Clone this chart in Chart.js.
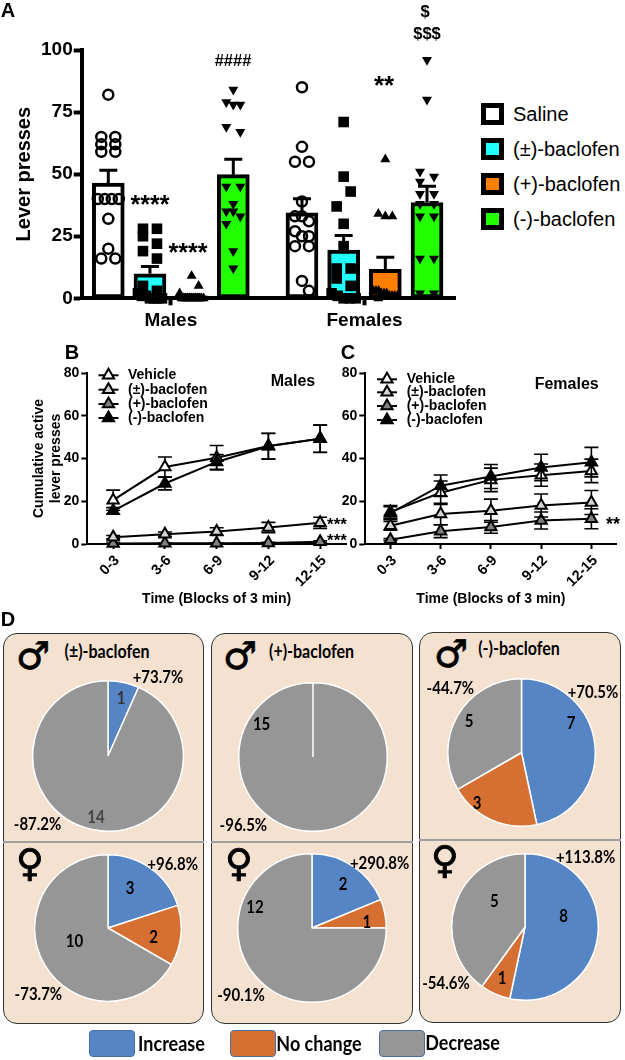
<!DOCTYPE html>
<html>
<head>
<meta charset="utf-8">
<title>Lever presses</title>
<script src="https://cdn.jsdelivr.net/npm/chart.js@4/dist/chart.umd.min.js"></script>
<style>
  html, body { margin: 0; padding: 0; background: #fff; overflow: hidden; }
  #page { position: relative; width: 625px; height: 1060px; overflow: hidden; }
  canvas { position: absolute; }
  .t { position: absolute; white-space: nowrap; font-family: "Liberation Sans", Arial, sans-serif; transform: translate(-50%, -50%); }
  .d { font-family: Lato, sans-serif; font-weight: 700; transform: translate(-50%, -50%) scale(1, 1.15); color: #000; }
  .box { position: absolute; box-sizing: border-box; }
</style>
</head>
<body>
<div id="page"></div>
<script>
const page = document.getElementById("page");
const sans = "'Liberation Sans', Arial, sans-serif";

// panel A
const groups = ["Males", "Females"];
const treatments = ["Saline", "(±)-baclofen", "(+)-baclofen", "(-)-baclofen"];
const barMeans = [46.4, 9.9, 1.0, 49.8, 34.4, 19.4, 11.7, 38.6];
const barErrors = [5.2, 2.9, 0.4, 6.2, 5.7, 5.9, 4.8, 6.5];
const salineMales = [82, 65, 65, 62, 62, 59, 59, 40, 40, 40, 40, 32, 20, 16, 16];
const racemicMales = [28, 28, 25, 22, 19, 16, 5, 3, 2, 1, 1, 0, 0, 0, 0];
const plusMales = [9, 5, 2, 0, 0, 0, 0, 0, 0, 0, 0, 0, 0, 0, 0];
const minusMales = [84, 79, 78, 78, 69, 67, 45, 45, 38, 35, 35, 33, 30, 19, 12];
const salineFemales = [85, 61, 55, 55, 39, 33, 33, 31, 27, 25, 25, 21, 21, 7, 3];
const racemicFemales = [71, 49, 43, 37, 30, 21, 12, 12, 8, 5, 2, 1, 0, 0, 0];
const plusFemales = [56, 34, 33, 33, 3, 3, 3, 2, 2, 2, 1, 1, 1, 1, 0];
const minusFemales = [96, 80, 51, 49, 47, 42, 42, 38, 38, 33, 33, 16, 16, 2, 2];
const pointSeries = [salineMales, racemicMales, plusMales, minusMales, salineFemales, racemicFemales, plusFemales, minusFemales];

// panels B and C
const blocks = ["0-3", "3-6", "6-9", "9-12", "12-15"];
const lineNames = ["Vehicle", "(±)-baclofen", "(+)-baclofen", "(-)-baclofen"];
const malesVehicle = [20.5, 36, 40.4, 45.8, 49.2];
const malesVehicleErr = [4.7, 4.7, 5.7, 6, 6.4];
const malesRacemic = [3.2, 4.6, 5.8, 7.7, 9.9];
const malesRacemicErr = [0.8, 1, 1.8, 2.4, 2.6];
const malesPlus = [0.2, 0.3, 0.3, 0.5, 1.1];
const malesPlusErr = [0.2, 0.2, 0.2, 0.3, 0.4];
const malesMinus = [15.5, 28.3, 38.4, 45.7, 49.3];
const malesMinusErr = [1.5, 3, 3.4, 6, 6.4];
const femalesVehicle = [15, 24, 30, 32.2, 34.2];
const femalesVehicleErr = [3, 5.5, 5.5, 5.2, 5.5];
const femalesRacemic = [8.5, 14, 15.6, 18, 19.4];
const femalesRacemicErr = [2, 5, 5.4, 5.4, 5.6];
const femalesPlus = [2, 6, 8, 11, 11.8];
const femalesPlusErr = [0.5, 3, 3, 4, 4.7];
const femalesMinus = [14.4, 27.3, 31.6, 35.8, 38.3];
const femalesMinusErr = [3, 5, 5.6, 6.2, 6.9];

// panel D: increase, no change, decrease (slice sizes as drawn, the printed counts differ in two pies)
const pieNames = ["Increase", "No change", "Decrease"];
const pieColors = ["#5585c5", "#d66f32", "#969696"];
const racemicMalePie = [1, 0, 14];
const racemicFemalePie = [3, 2, 10];
const plusMalePie = [0, 0, 15];
const plusFemalePie = [3, 1, 12];
const minusMalePie = [7, 3, 5];
const minusFemalePie = [8, 1, 6];

function addCanvas(x, y, w, h) {
  const c = document.createElement("canvas");
  c.width = w;
  c.height = h;
  c.style.left = x + "px";
  c.style.top = y + "px";
  c.style.width = w + "px";
  c.style.height = h + "px";
  page.appendChild(c);
  return c;
}

function text(str, x, y, style, cls) {
  const el = document.createElement("div");
  el.className = "t " + (cls || "");
  el.textContent = str;
  el.style.left = x + "px";
  el.style.top = y + "px";
  el.style.cssText += style || "";
  page.appendChild(el);
}

// whiskers, drawn under the markers of the dataset
const errorBars = {
  id: "errorBars",
  beforeDatasetDraw(chart, args) {
    const ds = chart.data.datasets[args.index];
    if (!ds.errors) return;
    const yScale = chart.scales.y;
    const ctx = chart.ctx;
    const meta = chart.getDatasetMeta(args.index);
    ctx.save();
    ctx.strokeStyle = "#000";
    ctx.lineWidth = ds.errorWidth;
    ds.errors.forEach((err, i) => {
      const v = chart.scales.y.getValueForPixel(meta.data[i].y);
      const x = meta.data[i].x;
      const top = yScale.getPixelForValue(v + err);
      const low = yScale.getPixelForValue(ds.errorBoth ? Math.max(v - err, 0) : v);
      ctx.beginPath();
      ctx.moveTo(x, low);
      ctx.lineTo(x, top);
      ctx.moveTo(x - ds.errorCap, top);
      ctx.lineTo(x + ds.errorCap, top);
      if (ds.errorBoth) {
        ctx.moveTo(x - ds.errorCap, low);
        ctx.lineTo(x + ds.errorCap, low);
      }
      ctx.stroke();
    });
    ctx.restore();
  },
};

// ---- panel A ----
const barUnit = 41.67;
const groupGap = 1.648;
const barPositions = barMeans.map((v, i) => (i < 4 ? i : i + groupGap - 1));
const groupTicks = [1.5, 6.148];

// spreads points sideways the way Prism does: ties side by side, near neighbours zigzag
function swarm(values, center) {
  const pts = [];
  let i = 0;
  let last = 0;
  while (i < values.length) {
    let j = i;
    while (j < values.length && values[i] - values[j] <= 2) j++;
    const n = j - i;
    const step = n === 2 ? 14 : Math.min(7, 24 / (n - 1 || 1));
    for (let k = 0; k < n; k++) {
      let off = (k - (n - 1) / 2) * step;
      if (n === 1) {
        const near = i > 0 && values[i - 1] - values[i] <= 6;
        off = near ? (last > 0 ? -7 : 7) : 0;
      }
      last = off;
      pts.push({ x: center + off / barUnit, y: values[i + k] });
    }
    i = j;
  }
  return pts;
}

const barColors = ["#fff", "#22ffff", "#ff8000", "#22ff00", "#fff", "#22ffff", "#ff8000", "#22ff00"];
const shapes = [
  { pointStyle: "circle", pointRadius: 5, pointBackgroundColor: "rgba(0,0,0,0)", pointBorderColor: "#000", pointBorderWidth: 2.5 },
  { pointStyle: "rect", pointRadius: 7.5, pointBackgroundColor: "#000", pointBorderWidth: 0 },
  { pointStyle: "triangle", pointRadius: 5.8, pointBackgroundColor: "#000", pointBorderWidth: 0 },
  { pointStyle: "triangle", pointRotation: 180, pointRadius: 5.8, pointBackgroundColor: "#000", pointBorderWidth: 0 },
];

const panelA = [
  {
    type: "bar",
    data: barMeans.map((v, i) => ({ x: barPositions[i], y: v })),
    backgroundColor: barColors,
    borderColor: "#000",
    borderWidth: 4,
    borderSkipped: false,
    barThickness: 32,
    order: 2,
    errors: barErrors,
    errorWidth: 3,
    errorCap: 9,
  },
];
pointSeries.forEach((vals, i) => {
  panelA.push(Object.assign({ type: "scatter", data: swarm(vals, barPositions[i]), order: 1, clip: false }, shapes[i % 4]));
});

new Chart(addCanvas(0, 0, 470, 340), {
  type: "bar",
  data: { datasets: panelA },
  plugins: [errorBars],
  options: {
    responsive: false,
    animation: false,
    layout: { padding: { top: 50, right: 15, left: 0, bottom: 0 } },
    plugins: { legend: { display: false }, tooltip: { enabled: false } },
    scales: {
      x: {
        type: "linear",
        offset: false,
        min: -0.638,
        max: 8.32,
        grid: { offset: false, drawOnChartArea: false, tickLength: 7, tickWidth: 4, tickColor: "#000" },
        border: { width: 4, color: "#000" },
        afterBuildTicks(axis) {
          axis.ticks = groupTicks.map((v) => ({ value: v }));
        },
        afterFit(s) {
          s.height = 41.7;
        },
        ticks: {
          autoSkip: false,
          maxRotation: 0,
          padding: 4,
          color: "#000",
          font: { family: sans, size: 19, weight: "bold" },
          callback: (v) => groups[groupTicks.indexOf(v)],
        },
      },
      y: {
        min: 0,
        max: 100,
        grid: { drawOnChartArea: false, tickLength: 8, tickWidth: 4, tickColor: "#000" },
        border: { width: 4, color: "#000" },
        afterFit(s) {
          s.width = 81.7;
        },
        ticks: {
          stepSize: 25,
          padding: 1,
          color: "#000",
          font: { family: sans, size: 19, weight: "bold" },
        },
        title: {
          display: true,
          text: "Lever presses",
          color: "#000",
          font: { family: sans, size: 20, weight: "bold" },
          padding: { top: 12, bottom: 0 },
        },
      },
    },
  },
});

// legend of A
treatments.forEach((name, i) => {
  const y = [113.5, 149, 184, 218.5][i];
  const s = document.createElement("div");
  s.className = "box";
  s.style.cssText = "left:481px;top:" + (y - 11) + "px;width:23px;height:22px;border:5px solid #000;background:" + barColors[i];
  page.appendChild(s);
  text(name, 513, y, "transform:translate(0,-50%);font-size:20px;color:#000");
});

text("A", 8, 10, "font-size:20px;font-weight:bold");
text("****", 150, 204, "font-size:25px;font-weight:bold");
text("****", 188, 252, "font-size:25px;font-weight:bold");
text("####", 233, 60, "font-size:16.5px;font-weight:bold");
text("**", 384, 85, "font-size:26px;font-weight:bold");
text("$", 425, 11, "font-size:16.5px;font-weight:bold");
text("$$$", 427, 33, "font-size:16.5px;font-weight:bold");

// ---- panels B and C ----
function lineLegend(iconX, textX, rows) {
  return {
    id: "lineLegend",
    afterDraw(chart) {
      const ctx = chart.ctx;
      const top = chart.canvas.offsetTop;
      const left = chart.canvas.offsetLeft;
      ctx.save();
      chart.data.datasets.forEach((ds, i) => {
        const y = rows[i] - top;
        ctx.strokeStyle = "#000";
        ctx.lineWidth = 2;
        ctx.beginPath();
        ctx.moveTo(iconX - 10 - left, y);
        ctx.lineTo(iconX + 10 - left, y);
        ctx.stroke();
        ctx.fillStyle = ds.pointBackgroundColor;
        Chart.helpers.drawPoint(ctx, { pointStyle: "triangle", radius: 6.5, rotation: 0, borderWidth: 2 }, iconX - left, y);
        ctx.fillStyle = "#000";
        ctx.font = "bold 14px " + sans;
        ctx.textBaseline = "middle";
        ctx.fillText(ds.label, textX - left, y);
      });
      ctx.restore();
    },
  };
}

const lineFills = ["#fff", "#d4d4d4", "#808080", "#000"];
const lineOrder = [2, 3, 4, 1];

function lineChart(canvas, series, errs, yWidth, padRight, withTitle, legendPlugin) {
  new Chart(canvas, {
    type: "line",
    data: {
      labels: blocks,
      datasets: series.map((vals, i) => ({
        label: lineNames[i],
        data: vals,
        borderColor: "#000",
        borderWidth: 2,
        tension: 0,
        fill: false,
        clip: false,
        order: lineOrder[i],
        pointStyle: "triangle",
        pointRadius: 6.5,
        pointBackgroundColor: lineFills[i],
        pointBorderColor: "#000",
        pointBorderWidth: 2,
        errors: errs[i],
        errorBoth: true,
        errorWidth: 1.6,
        errorCap: 7,
      })),
    },
    plugins: [errorBars, legendPlugin],
    options: {
      responsive: false,
      animation: false,
      layout: { padding: { top: 33, right: padRight, left: 0, bottom: 0 } },
      plugins: { legend: { display: false }, tooltip: { enabled: false } },
      scales: {
        x: {
          offset: true,
          grid: { offset: false, drawOnChartArea: false, tickLength: 5, tickWidth: 2, tickColor: "#000" },
          border: { width: 2, color: "#000" },
          afterFit(s) {
            s.height = 66;
          },
          ticks: {
            autoSkip: false,
            minRotation: 45,
            maxRotation: 45,
            padding: 3,
            labelOffset: 4,
            color: "#000",
            font: { family: sans, size: 14.5, weight: "bold" },
          },
          title: {
            display: true,
            text: "Time (Blocks of 3 min)",
            color: "#000",
            font: { family: sans, size: 14, weight: "bold" },
            padding: { top: 0, bottom: 2 },
          },
        },
        y: {
          min: 0,
          max: 80,
          grid: { drawOnChartArea: false, tickLength: 6, tickWidth: 2, tickColor: "#000" },
          border: { width: 2, color: "#000" },
          afterFit(s) {
            s.width = yWidth;
          },
          ticks: {
            stepSize: 20,
            padding: 2,
            color: "#000",
            font: { family: sans, size: 14, weight: "bold" },
          },
          title: {
            display: withTitle,
            text: ["Cumulative active", "lever presses"],
            color: "#000",
            font: { family: sans, size: 14, weight: "bold" },
            padding: { top: 31, bottom: 0 },
          },
        },
      },
    },
  });
}

lineChart(
  addCanvas(0, 340, 360, 270),
  [malesVehicle, malesRacemic, malesPlus, malesMinus],
  [malesVehicleErr, malesRacemicErr, malesPlusErr, malesMinusErr],
  87.3,
  14,
  true,
  lineLegend(108.5, 128, [375.3, 389.7, 404, 418])
);
lineChart(
  addCanvas(320, 340, 305, 270),
  [femalesVehicle, femalesRacemic, femalesPlus, femalesMinus],
  [femalesVehicleErr, femalesRacemicErr, femalesPlusErr, femalesMinusErr],
  45.3,
  3,
  false,
  lineLegend(387, 406.7, [379.3, 392.3, 406, 420])
);

text("B", 72, 352, "font-size:20px;font-weight:bold");
text("C", 348, 352, "font-size:20px;font-weight:bold");
text("Males", 293, 380.7, "font-size:16px;font-weight:bold");
text("Females", 566.7, 384, "font-size:16px;font-weight:bold");
text("***", 337, 525, "font-size:17px;font-weight:bold");
text("***", 337, 541, "font-size:17px;font-weight:bold");
text("**", 613, 524, "font-size:18px;font-weight:bold");

// ---- panel D ----
function panel(x, y, w, h, dividerY) {
  const p = document.createElement("div");
  p.className = "box";
  p.style.cssText = "left:" + x + "px;top:" + y + "px;width:" + w + "px;height:" + h + "px;background:#f4e1cf;border:1px solid #333;border-radius:14px";
  page.appendChild(p);
  const d = document.createElement("div");
  d.className = "box";
  d.style.cssText = "left:" + x + "px;top:" + dividerY + "px;width:" + w + "px;height:2px;background:#a0a0a0";
  page.appendChild(d);
}
panel(3, 633, 201, 391, 841);
panel(211, 633, 202, 391, 841);
panel(419, 632, 202, 391, 839);

function pie(values, cx, cy, r) {
  const size = Math.round(2 * r + 2);
  new Chart(addCanvas(cx - size / 2, cy - size / 2, size, size), {
    type: "pie",
    data: {
      labels: pieNames,
      datasets: [{ data: values, backgroundColor: pieColors, borderColor: "#fff", borderWidth: 1.5 }],
    },
    options: {
      responsive: false,
      animation: false,
      layout: { padding: 0 },
      plugins: { legend: { display: false }, tooltip: { enabled: false } },
    },
  });
}
pie(racemicMalePie, 108.4, 755.8, 75);
pie(racemicFemalePie, 108, 928, 73);
pie(plusMalePie, 313, 756.7, 74);
pie(plusFemalePie, 312, 928, 74);
pie(minusMalePie, 521, 752.5, 73.5);
pie(minusFemalePie, 525, 927, 73);

const big = "font-size:15px";
text("(±)-baclofen", 107, 650.7, "font-size:16px", "d");
text("(+)-baclofen", 311.5, 650.7, "font-size:16px", "d");
text("(-)-baclofen", 519, 648, "font-size:16px", "d");

const sym = "font-family:'DejaVu Sans';font-weight:bold;font-size:38px;color:#000;-webkit-text-stroke:0.8px #000";
text("♂", 33, 656, sym);
text("♂", 240, 656, sym);
text("♂", 451, 654, sym);
text("♀", 30, 863, sym);
text("♀", 239, 863, sym);
text("♀", 445, 860, sym);

text("+73.7%", 158, 676, big, "d");
text("-87.2%", 37.6, 822.7, big, "d");
text("1", 121, 697, big + ";color:#333", "d");
text("14", 96, 815.7, big + ";color:#444", "d");
text("+96.8%", 172.6, 862.7, big, "d");
text("3", 130, 886.7, big, "d");
text("2", 153.6, 935.7, big, "d");
text("10", 74.4, 940, big, "d");
text("-73.7%", 38.4, 993.3, big, "d");

text("15", 261.6, 722.7, big, "d");
text("-96.5%", 243.4, 824.3, big, "d");
text("+290.8%", 379.6, 861.7, big, "d");
text("2", 343, 882.7, big, "d");
text("1", 366.8, 920.7, big, "d");
text("12", 255, 906, big, "d");
text("-90.1%", 241, 994, big, "d");

text("-44.7%", 450.4, 686.7, big, "d");
text("+70.5%", 593, 690.7, big, "d");
text("7", 571, 721.7, big, "d");
text("5", 469, 720.3, big, "d");
text("3", 477, 801.7, big, "d");
text("+113.8%", 585.6, 855.7, big, "d");
text("8", 563.6, 915, big, "d");
text("5", 494.4, 900, big, "d");
text("1", 502, 976.7, big, "d");
text("-54.6%", 446, 981.7, big, "d");

text("D", 8, 619, "font-size:20px;font-weight:bold");

// legend of D
[89, 230, 379].forEach((x, i) => {
  const s = document.createElement("div");
  s.className = "box";
  s.style.cssText = "left:" + x + "px;top:1030px;width:46px;height:27px;border-radius:4px;border:1px solid #4a6f9f;background:" + pieColors[i];
  page.appendChild(s);
});
text(pieNames[0], 171.5, 1043, "font-size:18px", "d");
text(pieNames[1], 319, 1043, "font-size:18px", "d");
text(pieNames[2], 462.5, 1042, "font-size:18px", "d");
</script>
</body>
</html>
